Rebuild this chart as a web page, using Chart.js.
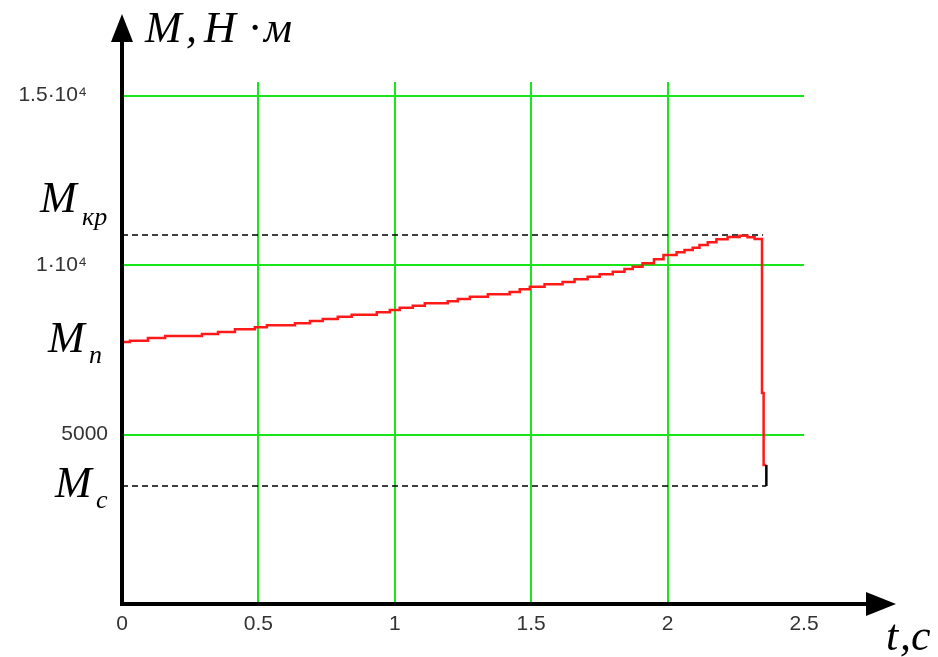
<!DOCTYPE html>
<html><head><meta charset="utf-8">
<script src="https://cdn.jsdelivr.net/npm/chart.js@4.4.1/dist/chart.umd.min.js"></script>
<style>html,body{margin:0;padding:0;background:#fff;}canvas{display:block;}</style>
</head><body>
<canvas id="c" width="938" height="657"></canvas>
<script>
// time, s
const tValues = [0, 0.029, 0.095, 0.158, 0.293, 0.352, 0.414, 0.487, 0.531, 0.634,
  0.689, 0.736, 0.791, 0.842, 0.934, 0.982, 1.018, 1.066, 1.110, 1.194,
  1.231, 1.275, 1.341, 1.421, 1.458, 1.495, 1.549, 1.615, 1.659, 1.707,
  1.751, 1.799, 1.842, 1.872, 1.908, 1.950, 1.985, 2.033, 2.062, 2.092,
  2.117, 2.147, 2.179, 2.220, 2.264, 2.293, 2.319, 2.346, 2.352, 2.362];
// torque, N·m
const mValues = [7700, 7729, 7767, 7847, 7906, 7965, 8024, 8104, 8163, 8222,
  8281, 8349, 8408, 8475, 8534, 8605, 8673, 8741, 8800, 8871,
  8930, 8998, 9065, 9136, 9204, 9284, 9360, 9431, 9499, 9579,
  9655, 9726, 9803, 9883, 9950, 10051, 10169, 10296, 10375, 10443,
  10511, 10591, 10670, 10759, 10827, 10865, 10818, 10768, 6225, 4101];
const M_kr = 10886;
const M_n = 7700;
const M_c = 3481;
const tKrEnd = 2.35;
const tEnd = 2.362;
const xTicks = [0, 0.5, 1, 1.5, 2, 2.5];
const xTickLabels = ['0', '0.5', '1', '1.5', '2', '2.5'];
const yTicks = [5000, 10000, 15000];
const yTickLabels = ['5000', '1\u00b710\u2074\u2002\u2002', '1.5\u00b710\u2074\u2002\u2002'];

const curve = tValues.map((t, i) => ({x: t, y: mValues[i]}));

const green = '#19e619';
const decor = {
  id: 'decor',
  afterDraw(chart) {
    const ctx = chart.ctx;
    const xs = chart.scales.x, ys = chart.scales.y;
    const x0 = xs.getPixelForValue(0), y0 = ys.getPixelForValue(0);
    ctx.save();
    // axes
    ctx.strokeStyle = '#000'; ctx.fillStyle = '#000'; ctx.lineWidth = 4;
    ctx.beginPath(); ctx.moveTo(x0, y0 + 2); ctx.lineTo(x0, 38); ctx.stroke();
    ctx.beginPath(); ctx.moveTo(x0 - 2, y0); ctx.lineTo(870, y0); ctx.stroke();
    ctx.beginPath(); ctx.moveTo(x0, 14); ctx.lineTo(x0 - 11, 42); ctx.lineTo(x0 + 11, 42); ctx.closePath(); ctx.fill();
    ctx.beginPath(); ctx.moveTo(896, y0); ctx.lineTo(866, y0 - 12); ctx.lineTo(866, y0 + 12); ctx.closePath(); ctx.fill();
    // titles
    ctx.fillStyle = '#000';
    ctx.textBaseline = 'alphabetic'; ctx.textAlign = 'left';
    ctx.font = 'italic 44px "Liberation Serif"';
    ctx.fillText('M', 145, 42);
    ctx.fillText(',', 186, 42);
    ctx.fillText('H', 204, 42);
    ctx.fillText('\u00b7', 249, 42);
    ctx.fillText('\u043c', 264, 42);
    ctx.fillText('t', 886, 650);
    ctx.fillText(',', 900, 650);
    ctx.fillText('c', 911, 650);
    const lab = (sub, xM, base, subDx, subDy) => {
      ctx.font = 'italic 44px "Liberation Serif"';
      ctx.fillText('M', xM, base);
      ctx.font = 'italic 26px "Liberation Serif"';
      ctx.fillText(sub, xM + subDx, base + subDy);
    };
    lab('\u043a\u0440', 40, ys.getPixelForValue(M_kr) - 23, 42, 13);
    lab('\u043f', 48, ys.getPixelForValue(M_n) + 9, 41, 11);
    lab('\u0441', 55, ys.getPixelForValue(M_c) + 11, 41, 11);
    ctx.restore();
  }
};

new Chart(document.getElementById('c'), {
  type: 'line',
  data: {
    datasets: [
      {data: curve, borderColor: '#ff1a1a', borderWidth: 2.5, pointRadius: 0, stepped: 'after', fill: false, order: 1},
      {data: [{x: 0, y: M_kr}, {x: tKrEnd, y: M_kr}], borderColor: '#000', borderWidth: 1.5, borderDash: [6, 4], pointRadius: 0, order: 2},
      {data: [{x: 0, y: M_c}, {x: tEnd, y: M_c}], borderColor: '#000', borderWidth: 1.5, borderDash: [6, 4], pointRadius: 0, order: 2},
      {data: [{x: tEnd, y: mValues[mValues.length - 1]}, {x: tEnd, y: M_c}], borderColor: '#000', borderWidth: 2.5, pointRadius: 0, order: 0}
    ]
  },
  options: {
    responsive: false, animation: false,
    layout: {padding: {left: 0, right: 134, top: 82, bottom: 0}},
    plugins: {legend: {display: false}, tooltip: {enabled: false}},
    scales: {
      x: {
        type: 'linear', min: 0, max: 2.5,
        afterBuildTicks: s => { s.ticks = xTicks.map(v => ({value: v})); },
        afterFit: s => { s.height = 53; },
        border: {display: false},
        grid: {drawTicks: false, lineWidth: 2,
          color: c => (c.tick && (c.tick.value === 0 || c.tick.value === 2.5)) ? 'rgba(0,0,0,0)' : green},
        ticks: {padding: 8, color: '#333', font: {family: 'Liberation Sans', size: 21},
          callback: (v, i) => xTickLabels[i]}
      },
      y: {
        type: 'linear', min: 0, max: 15400,
        afterBuildTicks: s => { s.ticks = yTicks.map(v => ({value: v})); },
        afterFit: s => { s.width = 122; },
        border: {display: false},
        grid: {drawTicks: false, lineWidth: 2, color: green},
        ticks: {padding: 14, color: '#333', font: {family: 'Liberation Sans', size: 21},
          callback: (v, i) => yTickLabels[i]}
      }
    }
  },
  plugins: [decor]
});
</script>
</body></html>
